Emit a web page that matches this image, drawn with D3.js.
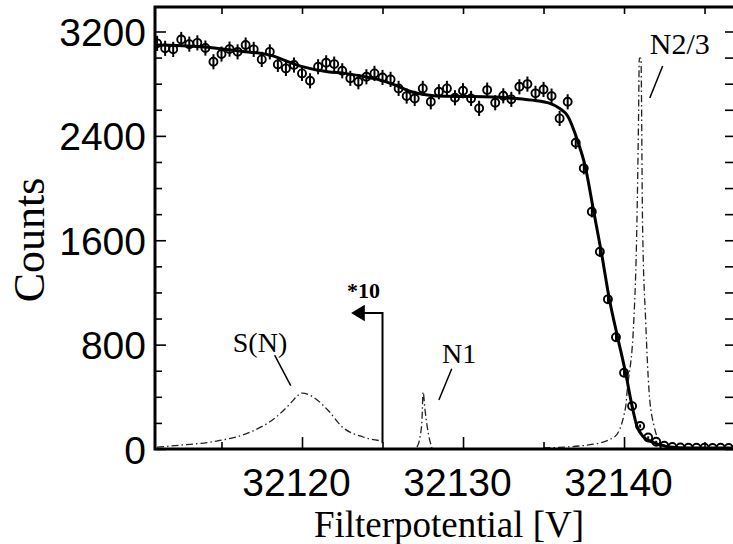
<!doctype html>
<html>

<head>
    <meta charset="UTF-8">
    <title>Filterpotential scan</title>
    <script src="https://d3js.org/d3.v7.min.js"></script>
    <style>
        body { margin: 0; background: #fff; }
        svg { display: block; }
    </style>
</head>

<body>
    <script>
        // measured points (0.5 V steps)
        var voltages = [
            32111.0, 32111.5, 32112.0, 32112.5, 32113.0, 32113.5, 32114.0, 32114.5, 32115.0, 32115.5,
            32116.0, 32116.5, 32117.0, 32117.5, 32118.0, 32118.5, 32119.0, 32119.5, 32120.0, 32120.5,
            32121.0, 32121.5, 32122.0, 32122.5, 32123.0, 32123.5, 32124.0, 32124.5, 32125.0, 32125.5,
            32126.0, 32126.5, 32127.0, 32127.5, 32128.0, 32128.5, 32129.0, 32129.5, 32130.0, 32130.5,
            32131.0, 32131.5, 32132.0, 32132.5, 32133.0, 32133.5, 32134.0, 32134.5, 32135.0, 32135.5,
            32136.0, 32136.5, 32137.0, 32137.5, 32138.0, 32138.5, 32139.0, 32139.5, 32140.0, 32140.5,
            32141.0, 32141.5, 32142.0, 32142.5, 32143.0, 32143.5, 32144.0, 32144.5, 32145.0, 32145.5,
            32146.0, 32146.5];
        var counts = [
            3109, 3071, 3063, 3139, 3103, 3113, 3073, 2968, 3027, 3065,
            3044, 3096, 3063, 2986, 3044, 2948, 2917, 2943, 2879, 2822,
            2930, 2960, 2950, 2899, 2841, 2815, 2853, 2879, 2848, 2833,
            2764, 2705, 2687, 2764, 2661, 2738, 2764, 2692, 2746, 2687,
            2611, 2751, 2654, 2707, 2680, 2776, 2797, 2726, 2756, 2705,
            2534, 2661, 2347, 2151, 1818, 1512, 1147, 856, 585, 329,
            176, 88, 56, 25, 15, 12, 10, 10, 10, 8, 10, 8];
        var errors = [
            58, 58, 58, 58, 58, 58, 58, 58, 58, 58,
            58, 58, 58, 58, 58, 58, 58, 58, 58, 58,
            58, 58, 58, 58, 58, 58, 58, 58, 58, 58,
            58, 58, 58, 58, 58, 58, 58, 58, 58, 58,
            58, 58, 58, 58, 58, 58, 58, 58, 58, 58,
            58, 58, 48, 46, 43, 39, 34, 29, 24, 18,
            13, 9, 7, 5, 4, 3, 3, 3, 3, 3, 3, 3];

        // fitted curve (solid)
        var fitV = [32111.0, 32113.7, 32116.1, 32118.0, 32119.9, 32121.6, 32122.7, 32123.7, 32124.7, 32125.8,
            32126.8, 32127.8, 32128.9, 32130.6, 32132.7, 32134.3, 32135.4, 32136.0, 32136.5, 32137.1,
            32137.6, 32138.1, 32138.6, 32139.1, 32139.6, 32140.1, 32140.5, 32140.8, 32141.2, 32141.7,
            32142.7, 32144.1, 32146.8];
        var fitC = [3096, 3083, 3051, 3019, 2935, 2891, 2879, 2858, 2833, 2789,
            2738, 2713, 2703, 2701, 2692, 2674, 2649, 2611, 2552, 2368,
            2161, 1831, 1502, 1142, 858, 582, 329, 176, 94, 56,
            18, 8, 8];

        // dash-dotted components
        var snV = [32111.0, 32112.6, 32114.7, 32116.8, 32118.4, 32119.3, 32119.7, 32120.0, 32120.4, 32120.7, 32121.6, 32122.5, 32123.8, 32125.0];
        var snC = [15, 31, 61, 130, 245, 352, 405, 429, 418, 398, 299, 169, 92, 61];
        var n1V = [32127.14, 32127.33, 32127.45, 32127.52, 32127.64, 32127.83, 32128.07];
        var n1C = [15, 92, 222, 437, 299, 130, 8];
        var n23V = [32135.0, 32137.8, 32139.4, 32140.1, 32140.2, 32140.6, 32140.8, 32140.9, 32140.95,
            32141.05, 32141.15, 32141.35, 32141.55, 32141.85, 32142.4, 32144.1, 32146.8];
        var n23C = [8, 31, 92, 322, 452, 966, 1732, 2521, 2996,
            2996, 1732, 966, 452, 184, 31, 8, 8];

        var yMajor = [0, 800, 1600, 2400, 3200];
        var yMinor = [200, 400, 600, 1000, 1200, 1400, 1800, 2000, 2200, 2600, 2800, 3000, 3400];
        var xMajor = [32120, 32130, 32140];
        var xMinor = [32115, 32125, 32135, 32145];

        var width = 733, height = 544;
        var plotL = 155, plotR = 734, plotB = 449, plotT = 7;

        var x = d3.scaleLinear().domain([32110.87, 32146.83]).range([plotL, plotR]);
        var y = d3.scaleLinear().domain([0, 3200]).range([plotB, 31.5]);

        var svg = d3.select("body").append("svg")
            .attr("width", width)
            .attr("height", height)
            .style("background", "#fff");

        svg.append("clipPath").attr("id", "plot")
            .append("rect").attr("x", plotL).attr("y", plotT).attr("width", plotR - plotL).attr("height", plotB - plotT);

        var plot = svg.append("g").attr("clip-path", "url(#plot)");

        // dash-dot curves
        var dashLine = d3.line().curve(d3.curveMonotoneX);
        function dashed(vs, cs) {
            plot.append("path")
                .attr("d", dashLine(vs.map(function (v, i) { return [x(v), y(cs[i])]; })))
                .attr("fill", "none")
                .attr("stroke", "#222")
                .attr("stroke-width", 1.3)
                .attr("stroke-dasharray", "7,3,1.5,3");
        }
        dashed(snV, snC);
        dashed(n1V, n1C);
        dashed(n23V, n23C);

        // fit
        plot.append("path")
            .attr("d", d3.line().curve(d3.curveMonotoneX)(fitV.map(function (v, i) { return [x(v), y(fitC[i])]; })))
            .attr("fill", "none")
            .attr("stroke", "#000")
            .attr("stroke-width", 3);

        // points with error bars
        var pts = plot.selectAll("g.pt").data(voltages).enter().append("g").attr("class", "pt");
        pts.append("line")
            .attr("x1", function (d) { return x(d); })
            .attr("x2", function (d) { return x(d); })
            .attr("y1", function (d, i) { return y(counts[i] - errors[i]); })
            .attr("y2", function (d, i) { return y(counts[i] + errors[i]); })
            .attr("stroke", "#000").attr("stroke-width", 2);
        pts.append("circle")
            .attr("cx", function (d) { return x(d); })
            .attr("cy", function (d, i) { return y(counts[i]); })
            .attr("r", 4)
            .attr("fill", "none")
            .attr("stroke", "#000")
            .attr("stroke-width", 1.9);

        // axes (minor and major ticks in separate groups)
        var tickFont = "'Liberation Sans', Arial, sans-serif";
        var inY = function (d) { return y(d) > plotT; };
        svg.append("g").attr("transform", "translate(" + plotL + ",0)")
            .call(d3.axisLeft(y).tickValues(yMinor.filter(inY)).tickSize(-7).tickFormat(""));
        var gl = svg.append("g").attr("transform", "translate(" + plotL + ",0)")
            .call(d3.axisLeft(y).tickValues(yMajor).tickSize(-11).tickPadding(9).tickSizeOuter(0).tickFormat(d3.format("d")));
        svg.append("g").attr("transform", "translate(" + plotR + ",0)")
            .call(d3.axisRight(y).tickValues(yMinor.concat(yMajor).filter(inY)).tickSize(-9).tickFormat(""));
        svg.append("g").attr("transform", "translate(0," + plotB + ")")
            .call(d3.axisBottom(x).tickValues(xMinor).tickSize(-7).tickFormat(""));
        var gb = svg.append("g").attr("transform", "translate(0," + plotB + ")")
            .call(d3.axisBottom(x).tickValues(xMajor).tickSize(-12).tickPadding(12).tickSizeOuter(0).tickFormat(d3.format("d")));
        svg.append("g").attr("transform", "translate(0," + plotT + ")")
            .call(d3.axisTop(x).tickValues(xMinor.concat(xMajor)).tickSize(-7).tickFormat(""));

        svg.selectAll(".domain").remove();
        svg.selectAll(".tick line").attr("stroke", "#000").attr("stroke-width", 1.6);
        gl.selectAll("text").attr("font-family", tickFont).attr("font-size", 39).attr("fill", "#000").attr("dy", "0.36em");
        gb.selectAll("text").attr("font-family", tickFont).attr("font-size", 39).attr("fill", "#000").attr("dx", -6).attr("dy", "0.9em");

        // frame
        svg.append("path")
            .attr("d", "M" + plotR + "," + plotT + "H" + plotL + "V" + plotB + "H" + plotR)
            .attr("fill", "none").attr("stroke", "#000").attr("stroke-width", 3);

        // axis titles
        var serif = "'Liberation Serif', 'Times New Roman', serif";
        svg.append("text")
            .attr("transform", "translate(44,240) rotate(-90)")
            .attr("text-anchor", "middle")
            .attr("font-family", serif).attr("font-size", 44)
            .text("Counts");
        svg.append("text")
            .attr("x", 449).attr("y", 537)
            .attr("text-anchor", "middle")
            .attr("font-family", serif).attr("font-size", 37)
            .text("Filterpotential [V]");

        // annotations
        function label(t, v, c, size, weight) {
            svg.append("text").attr("x", x(v)).attr("y", y(c))
                .attr("font-family", serif).attr("font-size", size).attr("font-weight", weight || "normal")
                .text(t);
        }
        function leader(v1, c1, v2, c2) {
            svg.append("line").attr("x1", x(v1)).attr("y1", y(c1)).attr("x2", x(v2)).attr("y2", y(c2))
                .attr("stroke", "#000").attr("stroke-width", 1.5);
        }
        label("S(N)", 32115.7, 745, 28);
        leader(32118.3, 720, 32119.3, 485);
        label("N1", 32128.7, 660, 28);
        leader(32129.3, 615, 32128.5, 375);
        label("N2/3", 32141.6, 3030, 30);
        leader(32142.4, 2935, 32141.6, 2690);
        label("*10", 32122.8, 1160, 22, "bold");

        // *10 arrow
        svg.append("path")
            .attr("d", "M" + x(32125) + "," + y(45) + "V" + y(1042) + "H" + x(32123.8))
            .attr("fill", "none").attr("stroke", "#000").attr("stroke-width", 2);
        svg.append("path")
            .attr("d", "M" + x(32123.05) + "," + y(1042) + "L" + x(32123.9) + "," + y(1105) + "L" + x(32123.9) + "," + y(979) + "Z")
            .attr("fill", "#000");
    </script>
</body>

</html>
